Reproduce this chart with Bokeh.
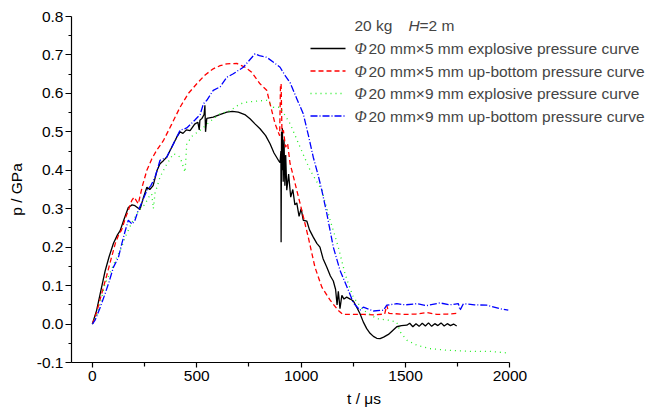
import math
from bokeh.plotting import figure
from bokeh.models import Range1d, FixedTicker, PrintfTickFormatter, Label, Arrow
from bokeh.embed import file_html
from bokeh.resources import INLINE

# ---------------- data ----------------
black_t = [0, 20, 37, 61, 80, 101, 120, 133, 150, 172, 190, 204, 228, 245, 261, 275, 291, 310, 324, 340,
           356, 380, 404, 420, 434, 450, 468, 490, 505, 512, 515, 525, 535, 539, 542, 548, 579, 610, 644, 670,
           699, 730, 755, 780, 803, 830, 851, 870, 891, 899, 903, 904, 906, 908, 910, 914, 918, 922, 926, 931,
           940, 950, 960, 970, 979, 990, 1000, 1010, 1027, 1040, 1058, 1075, 1090, 1105, 1123, 1140, 1154, 1165,
           1172, 1178, 1186, 1195, 1205, 1218, 1235, 1250, 1265, 1282, 1298, 1314, 1330, 1346, 1362, 1378, 1395,
           1418, 1440, 1458, 1480, 1506, 1520, 1535, 1550, 1565, 1580, 1595, 1610, 1625, 1640, 1655, 1670, 1685,
           1700, 1715, 1730, 1745]
black_p = [0.0, 0.035, 0.078, 0.138, 0.175, 0.21, 0.232, 0.243, 0.27, 0.303, 0.31, 0.308, 0.298, 0.33, 0.356,
           0.35, 0.36, 0.40, 0.417, 0.425, 0.434, 0.46, 0.486, 0.50, 0.496, 0.505, 0.503, 0.52, 0.525, 0.505,
           0.53, 0.535, 0.545, 0.569, 0.50, 0.535, 0.538, 0.545, 0.551, 0.553, 0.551, 0.545, 0.534, 0.52, 0.508,
           0.49, 0.469, 0.445, 0.426, 0.42, 0.45, 0.213, 0.50, 0.40, 0.51, 0.37, 0.48, 0.36, 0.44, 0.348, 0.39,
           0.33, 0.35, 0.31, 0.315, 0.28, 0.30, 0.27, 0.268, 0.245, 0.226, 0.21, 0.20, 0.17, 0.148, 0.125, 0.112,
           0.09, 0.05, 0.085, 0.04, 0.075, 0.065, 0.07, 0.065, 0.06, 0.045, 0.027, 0.005, -0.012, -0.024, -0.032,
           -0.037, -0.038, -0.034, -0.027, -0.016, -0.007, -0.004, -0.003, 0.002, -0.007, 0.001, -0.006, 0.002,
           -0.005, 0.003, -0.006, 0.001, -0.004, 0.003, -0.005, 0.001, -0.004, 0.0, -0.005]

red_t = [0, 20, 40, 69, 90, 110, 125, 140, 157, 175, 189, 200, 220, 240, 261, 285, 308, 340, 380, 420, 460,
         500, 540, 579, 612, 644, 692, 731, 763, 803, 835, 851, 875, 897, 901, 904, 908, 915, 925, 935, 947, 960,
         979, 1003, 1034, 1066, 1099, 1139, 1178, 1200, 1250, 1300, 1350, 1400, 1410, 1420, 1500, 1550, 1600,
         1650, 1700, 1753]
red_p = [0.0, 0.03, 0.07, 0.127, 0.17, 0.21, 0.231, 0.245, 0.274, 0.30, 0.322, 0.33, 0.313, 0.36, 0.40, 0.43,
         0.452, 0.477, 0.52, 0.564, 0.60, 0.625, 0.648, 0.664, 0.672, 0.677, 0.678, 0.668, 0.655, 0.625, 0.608,
         0.573, 0.521, 0.49, 0.62, 0.625, 0.50, 0.504, 0.46, 0.47, 0.417, 0.39, 0.348, 0.296, 0.226, 0.148,
         0.096, 0.062, 0.035, 0.025, 0.025, 0.025, 0.024, 0.026, 0.049, 0.028, 0.025, 0.026, 0.03, 0.025, 0.026,
         0.028]

green_t = [0, 20, 37, 61, 90, 117, 140, 157, 190, 228, 250, 270, 284, 292, 300, 324, 350, 388, 405, 420, 444,
           452, 480, 516, 579, 612, 659, 708, 739, 787, 835, 867, 899, 947, 995, 1043, 1099, 1139, 1178, 1210,
           1226, 1250, 1298, 1362, 1418, 1458, 1474, 1506, 1554, 1617, 1697, 1809, 1905, 1985]
green_p = [0.0, 0.02, 0.053, 0.105, 0.14, 0.174, 0.20, 0.226, 0.265, 0.30, 0.31, 0.33, 0.339, 0.30, 0.34,
           0.382, 0.41, 0.443, 0.44, 0.434, 0.395, 0.469, 0.49, 0.504, 0.534, 0.547, 0.555, 0.573, 0.577, 0.58,
           0.582, 0.564, 0.564, 0.521, 0.46, 0.40, 0.348, 0.27, 0.20, 0.131, 0.105, 0.07, 0.036, 0.014, 0.01,
           0.005, -0.02, -0.042, -0.055, -0.064, -0.068, -0.071, -0.071, -0.075]

blue_t = [0, 13, 35, 61, 80, 101, 125, 141, 156, 172, 190, 204, 220, 240, 261, 280, 300, 324, 356, 380, 404,
          420, 452, 490, 516, 532, 548, 579, 612, 644, 675, 700, 723, 750, 779, 800, 835, 870, 899, 925, 947,
          980, 1010, 1035, 1058, 1080, 1099, 1123, 1154, 1186, 1226, 1250, 1282, 1298, 1346, 1394, 1410, 1458,
          1500, 1554, 1600, 1665, 1710, 1753, 1761, 1777, 1830, 1889, 1952, 1992]
blue_p = [0.0, 0.01, 0.04, 0.079, 0.11, 0.148, 0.174, 0.209, 0.24, 0.27, 0.26, 0.27, 0.296, 0.32, 0.348, 0.36,
          0.382, 0.426, 0.434, 0.46, 0.486, 0.504, 0.51, 0.53, 0.545, 0.573, 0.582, 0.608, 0.617, 0.642, 0.651,
          0.66, 0.668, 0.685, 0.703, 0.698, 0.694, 0.68, 0.668, 0.645, 0.628, 0.585, 0.547, 0.49, 0.434, 0.39,
          0.348, 0.287, 0.20, 0.14, 0.088, 0.055, 0.036, 0.044, 0.034, 0.036, 0.049, 0.053, 0.05, 0.053, 0.048,
          0.055, 0.05, 0.053, 0.036, 0.053, 0.05, 0.049, 0.04, 0.036]

x_ticks = [0, 500, 1000, 1500, 2000]
x_minor = [250, 750, 1250, 1750]
y_ticks = [-0.1, 0.0, 0.1, 0.2, 0.3, 0.4, 0.5, 0.6, 0.7, 0.8]
y_minor = [-0.05, 0.05, 0.15, 0.25, 0.35, 0.45, 0.55, 0.65, 0.75]

series_names = ["20 mm\u00d75 mm explosive pressure curve",
                "20 mm\u00d75 mm up-bottom pressure curve",
                "20 mm\u00d79 mm explosive pressure curve",
                "20 mm\u00d79 mm up-bottom pressure curve"]
series_colors = ["#000000", "#ff0000", "#22ee22", "#0000ff"]
series_dash = ["solid", "5 3", "1 4", "7 2 1 2"]

# ---------------- figure ----------------
W, H = 664, 413
BL, BR, BT, BB = 71, 8, 16, 51
X0, X1 = -100, 2702
Y0, Y1 = -0.1, 0.8

p = figure(width=W, height=H, x_range=Range1d(X0, X1), y_range=Range1d(Y0, Y1),
           output_backend="svg", toolbar_location=None,
           min_border_left=BL, min_border_right=BR, min_border_top=BT, min_border_bottom=BB)
p.outline_line_color = None
p.xgrid.visible = False
p.ygrid.visible = False
p.background_fill_color = "white"
p.border_fill_color = "white"

FONT = "Liberation Sans"
FS = "15.5px"

for ax in (p.xaxis[0], p.yaxis[0]):
    ax.axis_line_color = "black"
    ax.axis_line_width = 1.2
    ax.major_tick_line_color = "black"
    ax.minor_tick_line_color = "black"
    ax.major_tick_line_width = 1.2
    ax.minor_tick_line_width = 1.2
    ax.major_tick_in = 0
    ax.minor_tick_in = 0
    ax.major_label_text_font = FONT
    ax.major_label_text_font_size = FS
    ax.major_label_text_color = "black"
    ax.axis_label_text_font = FONT
    ax.axis_label_text_font_size = FS
    ax.axis_label_text_font_style = "normal"
    ax.axis_label_text_color = "black"

p.xaxis[0].ticker = FixedTicker(ticks=x_ticks, minor_ticks=x_minor)
p.xaxis[0].bounds = (-100, 2000)
p.xaxis[0].major_tick_out = 5
p.xaxis[0].minor_tick_out = 4
p.xaxis[0].major_label_standoff = 3
p.xaxis[0].axis_label = "t / \u03bcs"
p.xaxis[0].axis_label_standoff = 6

p.yaxis[0].ticker = FixedTicker(ticks=y_ticks, minor_ticks=y_minor)
p.yaxis[0].formatter = PrintfTickFormatter(format="%.1f")
p.yaxis[0].major_tick_out = 6
p.yaxis[0].minor_tick_out = 3
p.yaxis[0].major_label_standoff = 2
p.yaxis[0].axis_label = "p / GPa"
p.yaxis[0].axis_label_standoff = 9

# ---------------- curves ----------------
all_t = [black_t, red_t, green_t, blue_t]
all_p = [black_p, red_p, green_p, blue_p]
for t, v, c, d in zip(all_t, all_p, series_colors, series_dash):
    p.line(t, v, line_color=c, line_width=1.3, line_dash=d)

# ---------------- page-pixel helpers for annotation placement ----------------
FW = W - BL - BR
FH = H - BT - BB


def dx(px):
    return X0 + (px - BL) / FW * (X1 - X0)


def dy(py):
    return Y1 - (py - BT) / FH * (Y1 - Y0)


# legend title
p.add_layout(Label(x=dx(354), y=dy(25), text="20 kg", text_font=FONT, text_font_size=FS,
                   text_align="left", text_baseline="middle"))
p.add_layout(Label(x=dx(408), y=dy(25), text="H", text_font=FONT, text_font_style="italic",
                   text_font_size=FS, text_align="left", text_baseline="middle"))
p.add_layout(Label(x=dx(419), y=dy(25), text="=2 m", text_font=FONT, text_font_size=FS,
                   text_align="left", text_baseline="middle"))

# legend rows
row_y = [48, 70.5, 93, 115.5]
for ry, name, c, d in zip(row_y, series_names, series_colors, series_dash):
    p.add_layout(Arrow(x_start=dx(310), y_start=dy(ry), x_end=dx(345), y_end=dy(ry), end=None,
                       line_color=c, line_width=1.3, line_dash=d))
    p.add_layout(Label(x=dx(354), y=dy(ry), text="\u03a6", text_font="Liberation Serif",
                       text_font_style="italic", text_font_size="16px", text_align="left",
                       text_baseline="middle"))
    p.add_layout(Label(x=dx(368), y=dy(ry), text=name, text_font=FONT, text_font_size=FS,
                       text_align="left", text_baseline="middle"))

open("out.html", "w").write(file_html(p, INLINE))
